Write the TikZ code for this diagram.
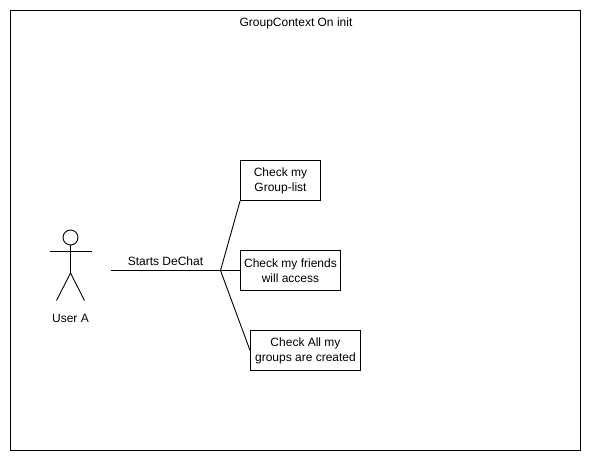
\documentclass[tikz,border=0pt]{standalone}
\usepackage{fontspec}
\setmainfont{Liberation Sans}
\usepackage{tikz}
\tikzset{
  usecase/.style={draw,line width=0.9pt,minimum height=40pt,inner sep=0pt,align=center,font=\fontsize{12}{15}\selectfont},
  label/.style={font=\fontsize{12}{15}\selectfont},
  wire/.style={line width=0.9pt}
}
\begin{document}
\begin{tikzpicture}[x=1pt,y=-1pt]
\useasboundingbox (0,0) rectangle (595,460);
% outer frame
\node[draw,line width=0.9pt,minimum width=570pt,minimum height=440pt,inner sep=0pt] (frame) at (295.5,230.5) {};
\node[label] (title) at (296,23) {GroupContext On init};
% actor
\node[draw,circle,line width=0.9pt,minimum size=15pt,inner sep=0pt] (head) at (70.5,237.5) {};
\coordinate (armL) at (49.5,251.5);
\coordinate (armR) at (91.5,251.5);
\coordinate (neck) at (70.5,251.5);
\coordinate (hip) at (70.5,273);
\coordinate (footL) at (56.5,300.5);
\coordinate (footR) at (84.5,300.5);
\draw[wire] (head) -- (hip);
\draw[wire] (armL) -- (armR);
\draw[wire] (footL) -- (hip) -- (footR);
\node[label] (userA) at (70.5,318.5) {User A};
% use cases
\node[usecase,minimum width=80pt] (grouplist) at (280.5,180.5) {Check my\\Group-list};
\node[usecase,minimum width=100pt] (friends) at (290.5,270.5) {Check my friends\\will access};
\node[usecase,minimum width=110pt] (groups) at (305.5,350.5) {Check All my\\groups are created};
% connectors
\coordinate (start) at (110.5,270.5);
\coordinate (fork) at (220.5,270.5);
\draw[wire] (start) -- node[label,above=1pt] (starts) {Starts DeChat} (fork);
\draw[wire] (fork) -- (grouplist.south west);
\draw[wire] (fork) -- (friends.west);
\draw[wire] (fork) -- (groups.west);
\end{tikzpicture}
\end{document}
